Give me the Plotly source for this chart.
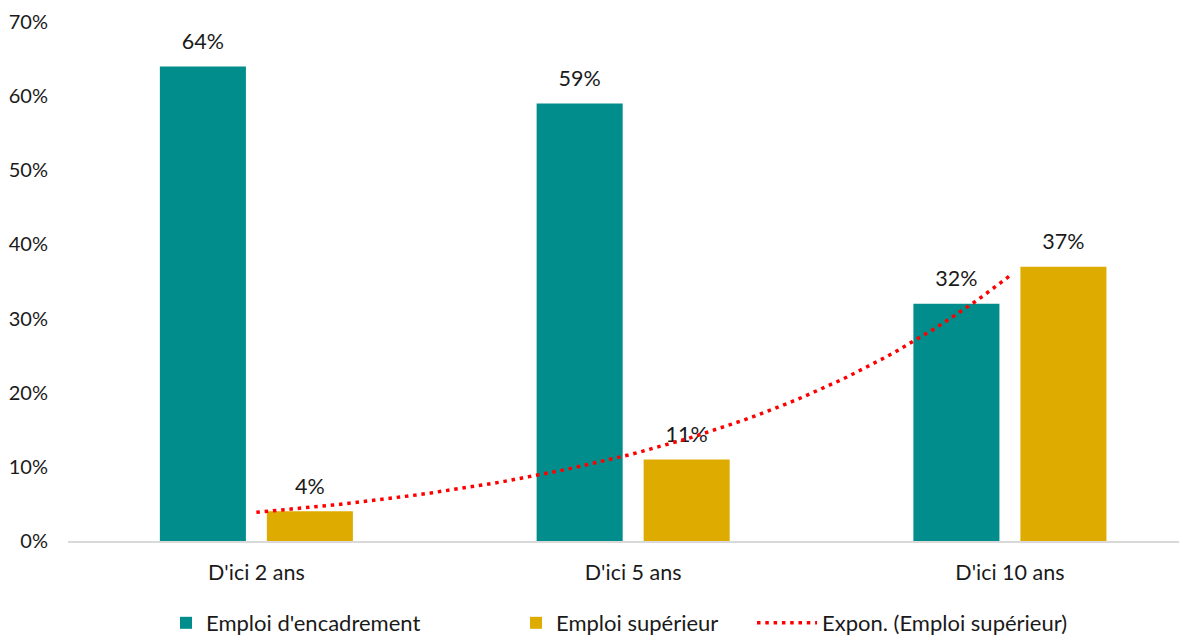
import numpy as np
import plotly.graph_objects as go

categories = ["D'ici 2 ans", "D'ici 5 ans", "D'ici 10 ans"]
encadrement = [64, 59, 32]
superieur = [4, 11, 37]
series_names = ["Emploi d'encadrement", "Emploi supérieur", "Expon. (Emploi supérieur)"]
y_ticks = [0, 10, 20, 30, 40, 50, 60, 70]
y_ticktext = [f"{v}%" for v in y_ticks]

TEAL = "#008D8B"
GOLD = "#DEAC00"
FONT = "Lato"
TXT = "#1A1A1A"
FS = 21.5

# exponential trendline fitted on the "Emploi supérieur" series
xi = np.arange(len(superieur))
b, a = np.polyfit(xi, np.log(superieur), 1)
trend_x = np.linspace(0, len(superieur) - 1, 80)
trend_y = np.exp(a + b * trend_x)

fig = go.Figure()
fig.add_trace(go.Bar(x=categories, y=encadrement, name=series_names[0],
                     marker=dict(color=TEAL, line=dict(width=0)), legend="legend"))
fig.add_trace(go.Bar(x=categories, y=superieur, name=series_names[1],
                     marker=dict(color=GOLD, line=dict(width=0)), legend="legend2"))
# value labels
for vals in (encadrement, superieur):
    fig.add_trace(go.Scatter(x=categories, y=vals, mode="markers+text",
                             text=[f"{v}%" for v in vals], textposition="top center",
                             textfont=dict(family=FONT, size=FS, color=TXT),
                             marker=dict(size=18, opacity=0), showlegend=False,
                             hoverinfo="skip", cliponaxis=False))
fig.add_trace(go.Scatter(x=trend_x, y=trend_y, mode="lines", name=series_names[2],
                         xaxis="x2", line=dict(color="#FF0000", width=3.5, dash="3.5px,4.8px"),
                         legend="legend3"))

# page has an 8px body margin, so the figure is 8px smaller than the window
XR = [-0.5, 2.47]
LEG_Y = -0.158
PW = 1119  # plot width in px
fig.update_layout(
    width=1179, height=627,
    margin=dict(l=60, r=0, t=14, b=94, autoexpand=False),
    paper_bgcolor="white", plot_bgcolor="white",
    font=dict(family=FONT, size=FS, color=TXT),
    barmode="group", bargap=0.432, bargroupgap=0.196,
    scattermode="group",
    xaxis=dict(type="category", categoryorder="array", categoryarray=categories,
               range=XR, showline=True, linecolor="#D9D9D9", linewidth=2,
               ticks="", ticklabelstandoff=11, showgrid=False, zeroline=False,
               automargin=False, tickfont=dict(family=FONT, size=FS, color=TXT)),
    xaxis2=dict(overlaying="x", range=XR, visible=False, automargin=False),
    yaxis=dict(range=[0, 70], tickmode="array", tickvals=y_ticks, ticktext=y_ticktext,
               showgrid=False, zeroline=False, showline=False, ticks="",
               ticklabelstandoff=19, automargin=False,
               tickfont=dict(family=FONT, size=20, color=TXT)),
    legend=dict(orientation="h", x=(166 - 68) / PW, y=LEG_Y, xanchor="left", yanchor="middle",
                font=dict(family=FONT, size=22, color=TXT), bgcolor="rgba(0,0,0,0)"),
    legend2=dict(orientation="h", x=(516 - 68) / PW, y=LEG_Y, xanchor="left", yanchor="middle",
                 font=dict(family=FONT, size=22, color=TXT), bgcolor="rgba(0,0,0,0)"),
    legend3=dict(orientation="h", x=(752 - 68) / PW, y=LEG_Y, xanchor="left", yanchor="middle",
                 itemwidth=60,
                 font=dict(family=FONT, size=22, color=TXT), bgcolor="rgba(0,0,0,0)"),
)

fig.write_html("out.html")
